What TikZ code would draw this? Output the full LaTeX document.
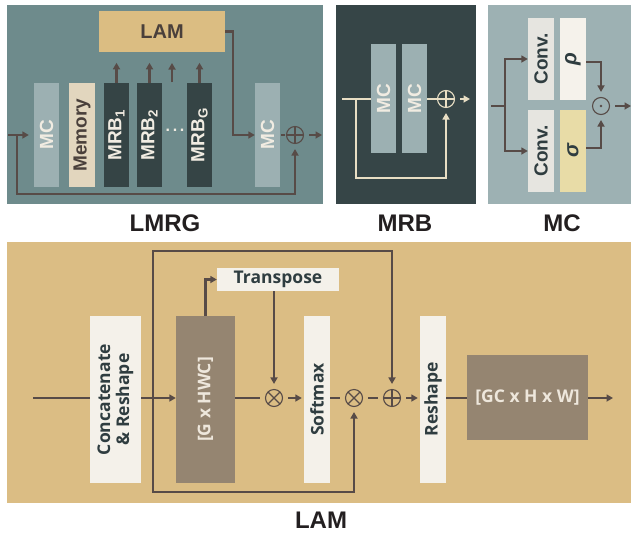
\documentclass[tikz,border=0pt]{standalone}
\usepackage{fontspec}
\setmainfont{Liberation Sans}
\newfontfamily\osans{Open Sans}
\usetikzlibrary{arrows.meta}
\definecolor{lmrgbg}{HTML}{6E8B8C}
\definecolor{mrbbg}{HTML}{364547}
\definecolor{mcbg}{HTML}{9DB1B3}
\definecolor{mclight}{HTML}{9CB0B2}
\definecolor{lamtan}{HTML}{DBBD82}
\definecolor{lamtxt}{HTML}{4A403B}
\definecolor{memc}{HTML}{E2D6BE}
\definecolor{memtxt}{HTML}{4A403B}
\definecolor{mrbc}{HTML}{354445}
\definecolor{cream}{HTML}{F1ECE2}
\definecolor{lnc}{HTML}{574B47}
\definecolor{creamln}{HTML}{E8DEC4}
\definecolor{convc}{HTML}{E6E5E0}
\definecolor{rhoc}{HTML}{F5F2EB}
\definecolor{sigc}{HTML}{E8DCA7}
\definecolor{darktxt}{HTML}{2F3D40}
\definecolor{lambg}{HTML}{DBBD84}
\definecolor{pale}{HTML}{F4F1EA}
\definecolor{brownbox}{HTML}{958571}
\definecolor{boxtxt}{HTML}{EEE7DC}
\definecolor{titlec}{HTML}{231F20}
\begin{document}
\begin{tikzpicture}[x=1pt,y=-1pt,
  bx/.style={rectangle, inner sep=0pt, draw=none},
  rt/.style={rotate=90, inner sep=0pt, font=\fontsize{19}{19}\selectfont\bfseries},
  ost/.style={inner sep=0pt, font=\osans\fontsize{17.5}{19}\selectfont\bfseries, text=darktxt},
  ostr/.style={ost, rotate=90, align=center},
  ln/.style={line width=2.2pt, draw=#1},
  ln/.default=lnc,
  arr/.style={line width=2.2pt, draw=#1, -{Triangle[length=6.5pt,width=7pt]}},
  arr/.default=lnc,
  ge/.style={shorten >=5pt},
  gs/.style={shorten <=5pt},
  opl/.style={circle, draw=#1, line width=1.1pt, minimum size=17pt, inner sep=0pt,
    path picture={\draw[#1, line width=1.1pt] (path picture bounding box.north) -- (path picture bounding box.south) (path picture bounding box.west) -- (path picture bounding box.east);}},
  otm/.style={circle, draw=#1, line width=1.1pt, minimum size=17pt, inner sep=0pt,
    path picture={\draw[#1, line width=1.1pt] (path picture bounding box.north west) -- (path picture bounding box.south east) (path picture bounding box.south west) -- (path picture bounding box.north east);}},
  odt/.style={circle, draw=#1, line width=1.1pt, minimum size=17pt, inner sep=0pt,
    path picture={\fill[#1] (path picture bounding box.center) circle (1.3pt);}},
  title/.style={font=\fontsize{24}{24}\selectfont\bfseries, text=titlec, inner sep=0pt}
]
\useasboundingbox (0,0) rectangle (631,533);
% ---------------- LMRG ----------------
\fill[lmrgbg] (7,5) rectangle (323,204);
\node[bx, fill=lamtan, minimum width=126pt, minimum height=41pt, font=\fontsize{20}{20}\selectfont\bfseries, text=lamtxt] (lam) at (162,31.5) {LAM};
\node[bx, fill=mclight, minimum width=25pt, minimum height=104pt] (mc1) at (46.5,135) {};
\node[rt, text=cream] (mc1t) at (mc1) {MC};
\node[bx, fill=memc, minimum width=26pt, minimum height=104pt] (mem) at (82,135) {};
\node[rt, text=memtxt] (memt) at (mem) {Memory};
\node[bx, fill=mrbc, minimum width=25pt, minimum height=104pt] (mrb1) at (116.5,135) {};
\node[rt, text=cream] (mrb1t) at (mrb1) {MRB\textsubscript{1}};
\node[bx, fill=mrbc, minimum width=25pt, minimum height=104pt] (mrb2) at (149.5,135) {};
\node[rt, text=cream] (mrb2t) at (mrb2) {MRB\textsubscript{2}};
\node[bx, fill=mrbc, minimum width=25pt, minimum height=104pt] (mrbg) at (199.5,135) {};
\node[rt, text=cream] (mrbgt) at (mrbg) {MRB\textsubscript{G}};
\node[inner sep=0pt, text=cream, font=\fontsize{16}{16}\selectfont\bfseries] (dots) at (175,130) {.\,.\,.};
\node[bx, fill=mclight, minimum width=25pt, minimum height=104pt] (mc2) at (267.5,135) {};
\node[rt, text=cream] (mc2t) at (mc2) {MC};
\node[opl=lnc] (op1) at (295,135) {};
\coordinate (in1) at (8,135);
\coordinate (sk1) at (17,135);
\coordinate (out1) at (322,135);
\coordinate (mid) at (172,82);
\draw[arr] (in1) -- ([xshift=-5pt]mc1.west);
\draw[arr, ge] (sk1) -- (17,194) -| (op1.south);
\draw[arr] (lam.east) -- ++(8,0) |- (mc2.west);
\draw[ln, gs, ge] (mc2.east) -- (op1.west);
\draw[arr, gs] (op1.east) -- (out1);
\draw[arr] (mrb1.north) -- ++(0,-20);
\draw[arr] (mrb2.north) -- ++(0,-20);
\draw[arr] (mid) -- ++(0,-19);
\draw[arr] (mrbg.north) -- ++(0,-20);
\node[title] (t1) at (165,223) {LMRG};
% ---------------- MRB ----------------
\fill[mrbbg] (336,5) rectangle (476,204);
\node[bx, fill=mclight, minimum width=25pt, minimum height=109pt] (ma) at (383.5,98.5) {};
\node[rt, text=cream] (mat) at (ma) {MC};
\node[bx, fill=mclight, minimum width=25pt, minimum height=109pt] (mb) at (414.5,98.5) {};
\node[rt, text=cream] (mbt) at (mb) {MC};
\node[opl=creamln] (opm) at (446,99) {};
\coordinate (in2) at (342,99);
\coordinate (sk2) at (356,99);
\coordinate (out2) at (470,99);
\draw[ln=creamln] (in2) -- (in2 -| ma.west);
\draw[arr=creamln, ge] (sk2) -- (356,178) -| (opm.south);
\draw[ln=creamln] (mb.east |- opm) -- (opm.west);
\draw[arr=creamln, gs] (opm.east) -- (out2);
\node[title] (t2) at (405,223) {MRB};
% ---------------- MC ----------------
\fill[mcbg] (488,5) rectangle (631,204);
\node[bx, fill=convc, minimum width=26pt, minimum height=82pt] (conv1) at (541,59) {};
\node[rt, text=darktxt] (conv1t) at (conv1) {Conv.};
\node[bx, fill=rhoc, minimum width=26pt, minimum height=82pt] (rho) at (573,59) {};
\node[rt, text=darktxt, font=\fontsize{21}{21}\selectfont\bfseries\itshape] (rhot) at (rho) {ρ};
\node[bx, fill=convc, minimum width=26pt, minimum height=82pt] (conv2) at (541,151) {};
\node[rt, text=darktxt] (conv2t) at (conv2) {Conv.};
\node[bx, fill=sigc, minimum width=26pt, minimum height=82pt] (sig) at (573,151) {};
\node[rt, text=darktxt, font=\fontsize{21}{21}\selectfont\bfseries\itshape] (sigt) at (sig) {σ};
\node[odt=lnc] (od) at (601,106) {};
\coordinate (in3) at (491,106);
\coordinate (br3) at (505,106);
\coordinate (out3) at (631,106);
\draw[ln] (in3) -- (br3);
\draw[arr] (br3) |- (conv1.west);
\draw[arr] (br3) |- (conv2.west);
\draw[arr, ge] ([yshift=-3pt]rho.east) -| (od.north);
\draw[arr, ge] ([yshift=3pt]sig.east) -| (od.south);
\draw[arr, gs] (od.east) -- (out3);
\node[title] (t3) at (562,223) {MC};
% ---------------- LAM ----------------
\fill[lambg] (7,242) rectangle (631,503);
\node[bx, fill=pale, minimum width=51pt, minimum height=167pt] (cc) at (115.5,399.5) {};
\node[ostr] (cct) at (cc) {Concatenate\\\& Reshape};
\node[bx, fill=brownbox, minimum width=59pt, minimum height=167pt] (gb) at (205.5,399.5) {};
\node[ostr, text=boxtxt] (gbt) at (gb) {[G x HWC]};
\node[bx, fill=pale, minimum width=122pt, minimum height=23pt] (tr) at (278,279.5) {};
\node[ost] (trt) at (tr) {Transpose};
\node[bx, fill=pale, minimum width=26pt, minimum height=167pt] (sm) at (317,399.5) {};
\node[ostr] (smt) at (sm) {Softmax};
\node[bx, fill=pale, minimum width=26pt, minimum height=167pt] (rs) at (433,399.5) {};
\node[ostr] (rst) at (rs) {Reshape};
\node[bx, fill=brownbox, minimum width=121pt, minimum height=85pt] (gc) at (527.5,397.5) {};
\node[ost, text=boxtxt] (gct) at (gc) {[GC x H x W]};
\node[otm=lnc] (ot1) at (274,398) {};
\node[otm=lnc] (ot2) at (354,398) {};
\node[opl=lnc] (op2) at (392,398) {};
\coordinate (in4) at (33,398);
\coordinate (br4) at (153,398);
\coordinate (out4) at (613,398);
\draw[ln] (in4) -- (in4 -| cc.west);
\draw[arr] (cc.east |- in4) -- (gb.west |- in4);
\draw[arr, ge] (br4) -- (153,251) -| (op2.north);
\draw[arr, ge] (br4) -- (153,492) -| (ot2.south);
\draw[arr] (gb.north) |- (tr.west);
\draw[arr, ge] (tr.south -| ot1) -- (ot1.north);
\draw[ln, ge] (gb.east |- ot1) -- (ot1.west);
\draw[arr, gs, shorten >=2pt] (ot1.east) -- (sm.west |- ot1);
\draw[ln, ge] (sm.east |- ot2) -- (ot2.west);
\draw[ln, gs, ge] (ot2.east) -- (op2.west);
\draw[arr, gs, shorten >=2pt] (op2.east) -- (rs.west |- op2);
\draw[ln] (rs.east |- op2) -- (gc.west |- op2);
\draw[arr] (gc.east |- op2) -- (out4);
\node[title] (t4) at (321,520) {LAM};
\end{tikzpicture}
\end{document}
